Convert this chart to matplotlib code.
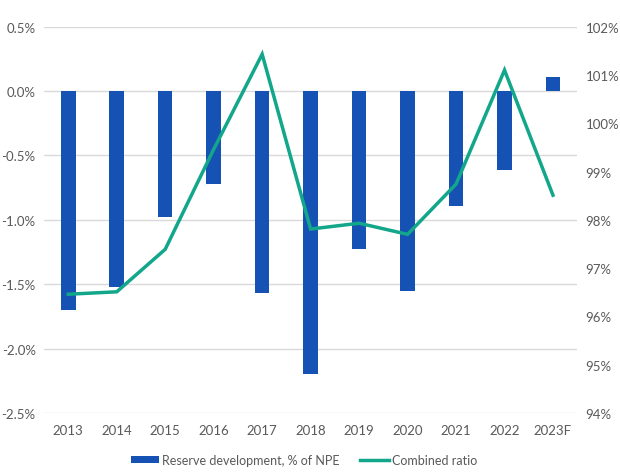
import numpy as np
import matplotlib.pyplot as plt
from matplotlib.ticker import FuncFormatter

years = ['2013', '2014', '2015', '2016', '2017', '2018', '2019', '2020', '2021', '2022', '2023F']
reserve_dev = [-1.70, -1.52, -0.98, -0.72, -1.57, -2.20, -1.23, -1.55, -0.89, -0.61, 0.11]
combined_ratio = [96.46, 96.51, 97.39, 99.46, 101.43, 97.81, 97.93, 97.70, 98.74, 101.10, 98.51]

bar_color = '#1652B4'
line_color = '#12A68A'
text_color = '#595959'
grid_color = '#D9D9D9'

plt.rcParams['font.family'] = ['Lato', 'DejaVu Sans']

fig = plt.figure(figsize=(6.2, 4.77), dpi=100)
ax = fig.add_axes([0.071, 0.132, 0.86, 0.810])
ax2 = ax.twinx()

x = np.arange(len(years))
b = ax.bar(x, reserve_dev, width=0.3, color=bar_color, zorder=2,
           label='Reserve development, % of NPE')
l, = ax2.plot(x, combined_ratio, color=line_color, lw=2.5, zorder=3,
              solid_joinstyle='miter', label='Combined ratio')

ax.set_ylim(-2.5, 0.5)
ax.set_yticks(np.arange(-2.5, 0.51, 0.5))
ax.yaxis.set_major_formatter(FuncFormatter(lambda v, p: '%.1f%%' % v))
ax2.set_ylim(94, 102)
ax2.set_yticks(np.arange(94, 103, 1))
ax2.yaxis.set_major_formatter(FuncFormatter(lambda v, p: '%d%%' % v))

ax.set_xlim(-0.5, len(years) - 0.5)
ax.set_xticks(x)
ax.set_xticklabels(years)

ax.grid(axis='y', color=grid_color, lw=1, zorder=0)
ax.set_axisbelow(True)
for a in (ax, ax2):
    for s in a.spines.values():
        s.set_visible(False)
    a.tick_params(length=0, colors=text_color, labelsize=9.5)
ax.tick_params(axis='x', pad=8)
ax.tick_params(axis='y', pad=6)
ax2.tick_params(axis='y', pad=6)
ax2.set_zorder(ax.get_zorder() + 1)
ax2.patch.set_visible(False)

fig.legend([b, l], ['Reserve development, % of NPE', 'Combined ratio'],
           loc='center', bbox_to_anchor=(0.49, 0.033), ncol=2, frameon=False,
           fontsize=9, labelcolor=text_color, handlelength=2.3,
           handleheight=0.5, handletextpad=0.25, columnspacing=1.6)

fig.savefig('out.png', dpi=100)
